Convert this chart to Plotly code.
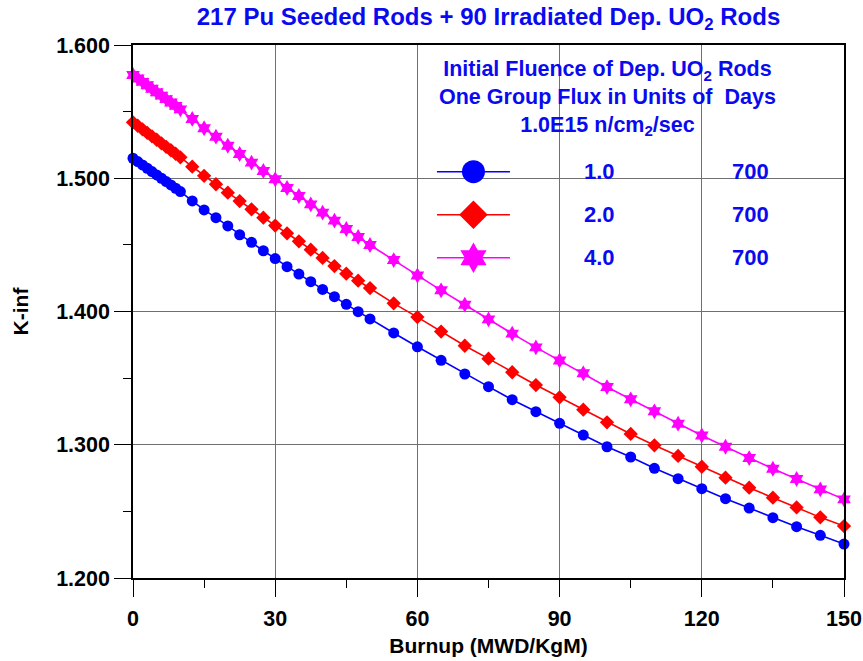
import plotly.graph_objects as go

# ---------------- data ----------------
burnup = [0, 1, 2, 3, 4, 5, 6, 7, 8, 9, 10,
          12.5, 15, 17.5, 20, 22.5, 25, 27.5, 30, 32.5, 35, 37.5, 40, 42.5, 45, 47.5, 50,
          55, 60, 65, 70, 75, 80, 85, 90, 95, 100, 105, 110, 115, 120, 125, 130, 135, 140, 145, 150]

kinf_1 = [1.515, 1.5125, 1.510, 1.5075, 1.505, 1.5025, 1.500, 1.4975, 1.495, 1.4925, 1.490,
          1.4830, 1.4762, 1.4704, 1.4642, 1.4576, 1.4519, 1.4456, 1.4397, 1.4336, 1.4281,
          1.4224, 1.4166, 1.4111, 1.4054, 1.3999, 1.3944,
          1.3839, 1.3735, 1.3634, 1.3531, 1.3436, 1.3338, 1.3248, 1.3161, 1.3073, 1.2985,
          1.2908, 1.2823, 1.2745, 1.2670, 1.2595, 1.2525, 1.2453, 1.2385, 1.2320, 1.2255]

kinf_2 = [1.542, 1.5394, 1.5367, 1.5341, 1.5315, 1.5289, 1.5262, 1.5236, 1.521, 1.5184, 1.5157,
          1.5087, 1.5018, 1.4955, 1.4892, 1.4829, 1.4767, 1.4704, 1.4645, 1.4587, 1.4527,
          1.4464, 1.4402, 1.4341, 1.4284, 1.4231, 1.4176,
          1.4061, 1.3958, 1.3849, 1.3743, 1.3646, 1.3544, 1.3448, 1.3356, 1.3263, 1.3168,
          1.3081, 1.2996, 1.2916, 1.2835, 1.2753, 1.2678, 1.2603, 1.2530, 1.2455, 1.2390]

kinf_4 = [1.5775, 1.5749, 1.5723, 1.5698, 1.5672, 1.5646, 1.562, 1.5594, 1.5569, 1.5543, 1.5517,
          1.5445, 1.5375, 1.5312, 1.5244, 1.5182, 1.5117, 1.5055, 1.4992, 1.4927, 1.4867,
          1.4804, 1.4742, 1.4682, 1.4619, 1.4559, 1.4499,
          1.4386, 1.4270, 1.4159, 1.4051, 1.3941, 1.3834, 1.3731, 1.3632, 1.3536, 1.3433,
          1.3341, 1.3251, 1.3158, 1.3070, 1.2985, 1.2900, 1.2820, 1.2743, 1.2665, 1.2590]

fluence_labels = ["1.0", "2.0", "4.0"]
days_labels = ["700", "700", "700"]
legend_header = ["Initial Fluence of Dep. UO<sub>2</sub> Rods",
                 "One Group Flux in Units of\u00a0 Days",
                 "1.0E15 n/cm<sub>2</sub>/sec"]
series = [kinf_1, kinf_2, kinf_4]
colors = ["#0000FF", "#FF0000", "#FF00FF"]
symbols = ["circle", "diamond", "hexagram"]
plot_sizes = [11, 11, 12]
legend_sizes = [23, 22, 23]

x_ticks = [0, 30, 60, 90, 120, 150]
y_ticks = [1.2, 1.3, 1.4, 1.5, 1.6]

FONT = "Liberation Sans, Arial, Helvetica, sans-serif"
BLUE_TEXT = "#0A0AF0"

fig = go.Figure()

for ys, c, s, ms in zip(series, colors, symbols, plot_sizes):
    fig.add_trace(go.Scatter(
        x=burnup, y=ys, mode="lines+markers",
        line=dict(color=c, width=1.6),
        marker=dict(symbol=s, size=ms, color=c, line=dict(width=0)),
        cliponaxis=False, showlegend=False, hoverinfo="skip"))

# custom legend samples on hidden overlay axes (same subplot area)
for i, (c, s, ms) in enumerate(zip(colors, symbols, legend_sizes)):
    fig.add_trace(go.Scatter(
        x=[0, 1], y=[i, i], mode="lines", line=dict(color=c, width=1.6),
        xaxis="x2", yaxis="y2", showlegend=False, hoverinfo="skip", cliponaxis=False))
    fig.add_trace(go.Scatter(
        x=[0.5], y=[i], mode="markers",
        marker=dict(symbol=s, size=ms, color=c, line=dict(width=0)),
        xaxis="x2", yaxis="y2", showlegend=False, hoverinfo="skip", cliponaxis=False))

annotations = []
for i, (f, d) in enumerate(zip(fluence_labels, days_labels)):
    annotations.append(dict(text=f, x=0.6568, xref="paper", y=i, yref="y2",
                            showarrow=False, xanchor="center", yanchor="middle",
                            font=dict(family=FONT, size=22, color=BLUE_TEXT, weight="bold")))
    annotations.append(dict(text=d, x=0.8678, xref="paper", y=i, yref="y2",
                            showarrow=False, xanchor="center", yanchor="middle",
                            font=dict(family=FONT, size=22, color=BLUE_TEXT, weight="bold")))

annotations.append(dict(
    text="<br>".join(legend_header), x=0.668, xref="paper", y=(578 - 98) / 533, yref="paper",
    showarrow=False, xanchor="center", yanchor="middle", align="center",
    font=dict(family=FONT, size=21.5, color=BLUE_TEXT, weight="bold")))

axis_common = dict(
    showline=True, linecolor="black", linewidth=1.5, mirror=True,
    showgrid=True, gridcolor="#707070", gridwidth=1.2,
    ticks="outside", ticklen=17, tickwidth=1.2, tickcolor="black",
    zeroline=False, automargin=False,
    tickfont=dict(family=FONT, size=21.5, color="black", weight="bold"),
)

fig.update_layout(
    width=863, height=661,
    margin=dict(l=133, r=19, t=45, b=83, autoexpand=False),
    paper_bgcolor="white", plot_bgcolor="white",
    title=dict(text="217 Pu Seeded Rods + 90 Irradiated Dep. UO<sub>2</sub> Rods",
               x=0.5, xref="paper", xanchor="center",
               y=1 - 17 / 661, yref="container", yanchor="middle",
               font=dict(family=FONT, size=24, color=BLUE_TEXT, weight="bold")),
    xaxis=dict(range=[0, 150], tickvals=x_ticks, ticklabelstandoff=3,
               minor=dict(dtick=15, ticks="outside", ticklen=8, tickcolor="black", showgrid=False),
               title=dict(text="Burnup (MWD/KgM)", standoff=9,
                          font=dict(family=FONT, size=21, color="black", weight="bold")),
               **axis_common),
    yaxis=dict(range=[1.2, 1.6], tickvals=y_ticks, tickformat=".3f",
               minor=dict(dtick=0.05, ticks="outside", ticklen=8, tickcolor="black", showgrid=False),
               title=dict(text="K-inf", standoff=22,
                          font=dict(family=FONT, size=21, color="black", weight="bold")),
               **axis_common),
    xaxis2=dict(range=[-4.164, 5.576], overlaying="x", anchor="y2",
                visible=False, fixedrange=True, automargin=False),
    yaxis2=dict(range=[9.448, -2.947], overlaying="y", anchor="x2",
                visible=False, fixedrange=True, automargin=False),
    shapes=[dict(type="rect", xref="x", yref="y", x0=64.1, x1=135.0, y0=1.4311, y1=1.5895,
                 fillcolor="white", line=dict(width=0), layer="below")],
    annotations=annotations,
)

fig.write_html("out.html")
